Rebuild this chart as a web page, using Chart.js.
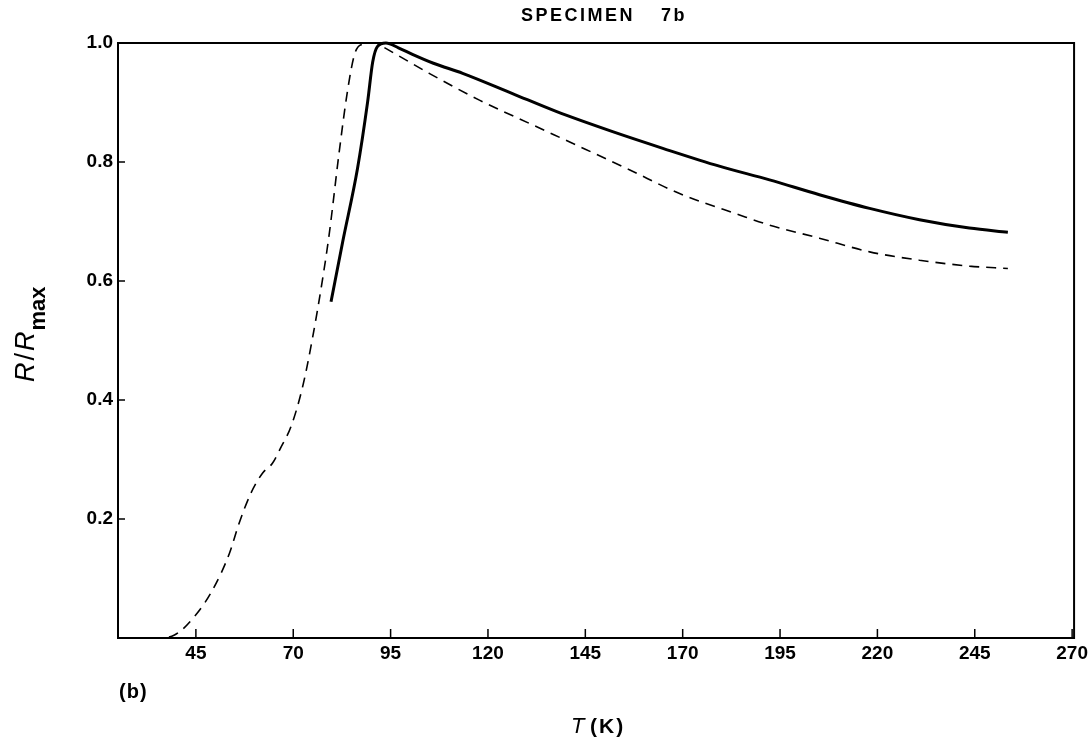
<!DOCTYPE html>
<html lang="en">
<head>
    <meta charset="UTF-8">
    <title>Specimen 7b</title>
    <script src="https://cdn.jsdelivr.net/npm/chart.js@4.4.1/dist/chart.umd.min.js"></script>
    <style>
        body { margin: 0; background: #fff; }
        .wrap { width: 1092px; height: 741px; position: relative; }
    </style>
</head>
<body>
    <div class="wrap">
        <canvas id="chart"></canvas>
    </div>

    <script>
        // values
        const xTicks = [45, 70, 95, 120, 145, 170, 195, 220, 245, 270];
        const yTicks = [0.2, 0.4, 0.6, 0.8, 1.0];

        const dashedT = [25, 30, 35, 39.5, 45, 49.3, 53.6, 56.1, 59.1, 62.1, 64.7, 66.8, 69.4, 72.4, 75, 77.5, 79.2, 81.8, 83.9, 85.7, 87.4, 91.2, 92.9, 98, 104.9, 117.8, 130.6, 143.5, 156.3, 169.2, 184.6, 192.3, 205.1, 218, 230.8, 243.6, 253.5];
        const dashedR = [0, 0, 0, 0.005, 0.039, 0.081, 0.142, 0.193, 0.243, 0.277, 0.294, 0.32, 0.355, 0.422, 0.506, 0.602, 0.677, 0.817, 0.918, 0.98, 0.997, 1.0, 0.994, 0.975, 0.949, 0.904, 0.865, 0.826, 0.787, 0.747, 0.711, 0.694, 0.672, 0.649, 0.635, 0.625, 0.621];

        const solidT = [79.7, 82.7, 86.5, 89.1, 90.4, 91.6, 93.8, 97, 100.6, 106, 113.5, 126.3, 137.5, 152, 164.9, 179.4, 192.3, 205.1, 218, 230.8, 243.6, 253.5];
        const solidR = [0.565, 0.666, 0.789, 0.901, 0.968, 0.994, 1.0, 0.992, 0.981, 0.966, 0.949, 0.915, 0.885, 0.851, 0.823, 0.793, 0.770, 0.745, 0.722, 0.703, 0.689, 0.682];

        const pts = (xs, ys) => xs.map((x, i) => ({ x: x, y: ys[i] }));
        const FONT = '"Liberation Sans", Arial, Helvetica, sans-serif';

        // frame, inward ticks and the text around the plot
        const decor = {
            id: 'decor',
            afterDraw(chart) {
                const c = chart.ctx;
                const a = chart.chartArea;
                const xs = chart.scales.x, ys = chart.scales.y;
                c.save();
                c.strokeStyle = '#000';
                c.lineWidth = 2;
                c.strokeRect(a.left, a.top, a.right - a.left, a.bottom - a.top);

                c.lineWidth = 1.5;
                c.beginPath();
                xTicks.forEach(v => {
                    const px = xs.getPixelForValue(v);
                    c.moveTo(px, a.bottom);
                    c.lineTo(px, a.bottom - 9);
                });
                yTicks.forEach(v => {
                    const py = ys.getPixelForValue(v);
                    c.moveTo(a.left, py);
                    c.lineTo(a.left + 7, py);
                });
                c.stroke();

                c.fillStyle = '#000';
                c.textBaseline = 'alphabetic';
                c.textAlign = 'left';

                // title
                c.font = 'bold 18px ' + FONT;
                c.letterSpacing = '2.5px';
                c.fillText('SPECIMEN', 521, 21);
                c.fillText('7b', 661, 21);

                // panel letter
                c.font = 'bold 20px ' + FONT;
                c.letterSpacing = '1px';
                c.fillText('(b)', 119, 698);

                // x title: T (K)
                c.font = 'italic 22px ' + FONT;
                c.letterSpacing = '0px';
                c.fillText('T', 571, 733);
                c.font = 'bold 21px ' + FONT;
                c.letterSpacing = '2px';
                c.fillText('(K)', 590, 733);
                c.letterSpacing = '0px';

                // y title: R/R_max rotated
                c.translate(34, 340);
                c.rotate(-Math.PI / 2);
                let x = -42;
                c.font = 'italic 27px ' + FONT;
                c.fillText('R', x, 0); x += c.measureText('R').width + 2;
                c.font = '27px ' + FONT;
                c.fillText('/', x, 0); x += c.measureText('/').width + 2;
                c.font = 'italic 27px ' + FONT;
                c.fillText('R', x, 0); x += c.measureText('R').width + 1;
                c.font = 'bold 22px ' + FONT;
                c.fillText('max', x, 11);
                c.restore();
            }
        };

        const ctx = document.getElementById('chart').getContext('2d');
        const chart = new Chart(ctx, {
            type: 'line',
            data: {
                datasets: [
                    {
                        label: 'dashed',
                        data: pts(dashedT, dashedR),
                        borderColor: '#000',
                        borderWidth: 1.6,
                        borderDash: [10, 7],
                        cubicInterpolationMode: 'monotone',
                        pointRadius: 0,
                        fill: false,
                        clip: 4
                    },
                    {
                        label: 'solid',
                        data: pts(solidT, solidR),
                        borderColor: '#000',
                        borderWidth: 3,
                        cubicInterpolationMode: 'monotone',
                        pointRadius: 0,
                        fill: false,
                        clip: 4
                    }
                ]
            },
            options: {
                responsive: true,
                maintainAspectRatio: false,
                animation: false,
                layout: { padding: { top: 43, right: 12, left: 0, bottom: 0 } },
                plugins: {
                    legend: { display: false },
                    tooltip: { enabled: false }
                },
                scales: {
                    x: {
                        type: 'linear',
                        min: 25,
                        max: 270.5,
                        afterBuildTicks: s => { s.ticks = xTicks.map(v => ({ value: v })); },
                        afterFit: s => { s.height = 103; },
                        grid: { display: false, drawTicks: false },
                        border: { display: false },
                        ticks: {
                            color: '#000',
                            padding: 4,
                            maxRotation: 0,
                            font: { family: FONT, size: 19, weight: 'bold' }
                        }
                    },
                    y: {
                        type: 'linear',
                        min: 0,
                        max: 1,
                        afterBuildTicks: s => { s.ticks = yTicks.map(v => ({ value: v })); },
                        afterFit: s => { s.width = 118; },
                        grid: { display: false, drawTicks: false },
                        border: { display: false },
                        ticks: {
                            color: '#000',
                            padding: 5,
                            callback: v => v.toFixed(1),
                            font: { family: FONT, size: 19, weight: 'bold' }
                        }
                    }
                }
            },
            plugins: [decor]
        });
    </script>
</body>
</html>
